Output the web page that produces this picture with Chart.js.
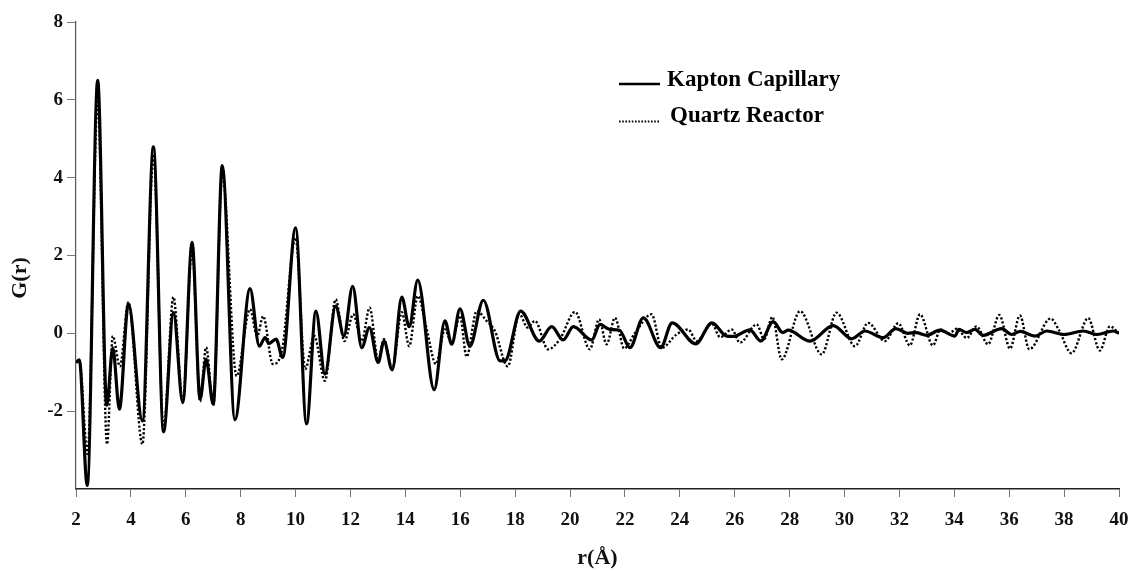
<!DOCTYPE html>
<html>
<head>
<meta charset="utf-8">
<script src="https://cdn.jsdelivr.net/npm/chart.js@4.4.1/dist/chart.umd.min.js"></script>
<style>
  html, body { margin: 0; padding: 0; background: #fff; }
  #wrap { position: relative; width: 1132px; height: 572px; }
</style>
</head>
<body>
<div id="wrap"><canvas id="pdf"></canvas></div>
<script>
// G(r), extrema and a few shoulder points
const kaptonR = [2.0, 2.12, 2.41, 2.79, 3.12, 3.34, 3.58, 3.91, 4.42, 4.82, 5.19, 5.55, 5.89, 6.23, 6.52, 6.74, 7.0, 7.33, 7.79, 8.34,
  8.68, 8.89, 9.03, 9.29, 9.53, 10.0, 10.4, 10.74, 11.07, 11.46, 11.76, 12.08, 12.41, 12.69, 13.01, 13.22, 13.52, 13.87, 14.14, 14.45,
  15.05, 15.44, 15.69, 15.99, 16.35, 16.84, 17.45, 17.64, 18.2, 18.88, 19.33, 19.75, 20.12, 20.79, 21.09, 21.45, 21.8, 22.18, 22.67, 23.3,
  23.72, 24.58, 25.17, 25.7, 25.95, 26.55, 26.95, 27.4, 27.75, 27.95, 28.74, 29.59, 30.26, 30.74, 31.41, 31.87, 32.3, 32.6, 33.0, 33.47,
  34.02, 34.17, 34.45, 34.75, 35.05, 35.72, 36.09, 36.4, 36.94, 37.37, 38.0, 38.7, 39.2, 39.79, 40.0];
const kaptonG = [-0.75, -0.68, -3.91, 6.5, -1.85, -0.37, -1.95, 0.76, -2.25, 4.79, -2.53, 0.53, -1.78, 2.34, -1.69, -0.67, -1.82, 4.31, -2.22, 1.15,
  -0.33, -0.11, -0.26, -0.15, -0.62, 2.71, -2.33, 0.57, -1.05, 0.7, -0.07, 1.21, -0.37, 0.15, -0.75, -0.2, -0.94, 0.93, 0.17, 1.37,
  -1.45, 0.32, -0.28, 0.63, -0.33, 0.85, -0.71, -0.7, 0.57, -0.2, 0.17, -0.17, 0.17, -0.17, 0.23, 0.1, 0.08, -0.37, 0.4, -0.37,
  0.27, -0.27, 0.27, -0.07, -0.08, 0.09, -0.2, 0.3, 0.02, 0.08, -0.2, 0.2, -0.14, 0.06, -0.11, 0.12, 0.0, 0.02, -0.05, 0.08,
  -0.07, 0.1, 0.02, 0.1, -0.05, 0.12, -0.03, 0.05, -0.07, 0.06, -0.03, 0.06, -0.03, 0.06, 0.0];

const quartzR = [2.0, 2.12, 2.42, 2.79, 3.13, 3.34, 3.6, 3.91, 4.42, 4.82, 5.19, 5.55, 5.89, 6.23, 6.52, 6.74, 7.0, 7.33, 7.85, 8.34,
  8.6, 8.82, 9.17, 9.5, 10.0, 10.35, 10.68, 11.07, 11.46, 11.78, 12.1, 12.41, 12.7, 13.01, 13.22, 13.52, 13.87, 14.14, 14.45, 14.78,
  15.11, 15.44, 15.69, 15.99, 16.23, 16.6, 16.96, 17.26, 17.73, 18.15, 18.45, 18.72, 19.2, 19.63, 20.18, 20.72, 21.06, 21.33, 21.64, 21.97,
  22.36, 22.97, 23.34, 23.88, 24.3, 24.62, 25.16, 25.47, 25.89, 26.19, 26.8, 27.07, 27.37, 27.71, 28.38, 29.17, 29.71, 30.38, 30.86, 31.47,
  31.96, 32.38, 32.75, 33.22, 33.5, 33.8, 34.1, 34.45, 34.81, 35.23, 35.64, 36.03, 36.39, 36.73, 37.51, 37.8, 38.27, 38.88, 39.3, 39.67, 40.0];
const quartzG = [-0.75, -0.7, -3.1, 6.0, -2.85, -0.07, -0.85, 0.8, -2.85, 4.6, -2.45, 0.93, -1.75, 2.2, -1.75, -0.36, -1.85, 4.1, -1.1, 0.62,
  -0.07, 0.44, -0.79, -0.45, 2.45, -0.92, -0.07, -1.22, 0.87, -0.2, 0.49, -0.2, 0.66, -0.7, -0.15, -0.9, 0.54, -0.33, 0.96, 0.1,
  -0.79, 0.1, -0.25, 0.45, -0.6, 0.57, 0.32, 0.06, -0.85, 0.5, 0.15, 0.32, -0.41, -0.15, 0.55, -0.41, 0.36, -0.28, 0.4, -0.39,
  0.0, 0.49, -0.37, -0.03, 0.1, -0.2, 0.25, -0.1, 0.1, -0.24, 0.23, -0.15, 0.42, -0.67, 0.57, -0.54, 0.53, -0.33, 0.27, -0.2,
  0.26, -0.31, 0.49, -0.31, 0.1, 0.0, 0.12, -0.12, 0.18, -0.28, 0.47, -0.39, 0.46, -0.41, 0.38, 0.1, -0.51, 0.39, -0.44, 0.18, 0.0];

const seriesNames = ['Kapton Capillary', 'Quartz Reactor'];
const xTicks = [2, 4, 6, 8, 10, 12, 14, 16, 18, 20, 22, 24, 26, 28, 30, 32, 34, 36, 38, 40];
const yTicks = [-2, 0, 2, 4, 6, 8];
const yTitle = 'G(r)';
const xTitle = 'r(Å)';

const serif = '"Liberation Serif", "Times New Roman", serif';

function toPoints(xs, ys) {
  return xs.map((x, i) => ({ x: x, y: ys[i] }));
}

// legend and y title drawn by hand, like the original figure
const extras = {
  id: 'extras',
  afterDraw(chart) {
    const ctx = chart.ctx;
    ctx.save();
    ctx.strokeStyle = '#000';
    ctx.lineCap = 'butt';

    ctx.lineWidth = 2.5;
    ctx.beginPath();
    ctx.moveTo(619, 84);
    ctx.lineTo(660, 84);
    ctx.stroke();

    ctx.lineWidth = 2;
    ctx.setLineDash([1.6, 1.6]);
    ctx.beginPath();
    ctx.moveTo(619, 121.5);
    ctx.lineTo(660, 121.5);
    ctx.stroke();
    ctx.setLineDash([]);

    ctx.fillStyle = '#000';
    ctx.font = 'bold 23px ' + serif;
    ctx.textBaseline = 'alphabetic';
    ctx.fillText(seriesNames[0], 667, 86);
    ctx.fillText(seriesNames[1], 670, 122);

    // y title sits a bit below the middle of the axis
    ctx.fillStyle = '#111';
    ctx.font = 'bold 22px ' + serif;
    ctx.textAlign = 'center';
    ctx.textBaseline = 'middle';
    ctx.translate(20, 278);
    ctx.rotate(-Math.PI / 2);
    ctx.fillText(yTitle, 0, 0);
    ctx.restore();
  }
};

new Chart(document.getElementById('pdf'), {
  type: 'line',
  data: {
    datasets: [
      {
        label: seriesNames[0],
        data: toPoints(kaptonR, kaptonG),
        borderColor: '#000',
        borderWidth: 3.2,
        pointRadius: 0,
        cubicInterpolationMode: 'monotone',
        fill: false
      },
      {
        label: seriesNames[1],
        data: toPoints(quartzR, quartzG),
        borderColor: '#000',
        borderWidth: 2.4,
        borderDash: [2.2, 2],
        pointRadius: 0,
        cubicInterpolationMode: 'monotone',
        fill: false
      }
    ]
  },
  options: {
    responsive: true,
    maintainAspectRatio: false,
    animation: false,
    layout: { padding: { left: 0, right: 13, top: 22, bottom: 0 } },
    plugins: {
      legend: { display: false },
      tooltip: { enabled: false }
    },
    scales: {
      x: {
        type: 'linear',
        min: 2,
        max: 40,
        afterBuildTicks: (scale) => { scale.ticks = xTicks.map(v => ({ value: v })); },
        afterFit: (scale) => {
          scale.height = 83;
          scale.paddingLeft = 0;
          scale.paddingRight = 0;
        },
        grid: { display: true, drawOnChartArea: false, drawTicks: true, tickLength: 8, color: '#777', lineWidth: 1 },
        border: { display: true, color: '#222', width: 1.5 },
        ticks: { color: '#111', padding: 12, maxRotation: 0, font: { family: serif, size: 19, weight: 'bold' } },
        title: { display: true, text: xTitle, color: '#111', padding: { top: 0, bottom: 0 }, font: { family: serif, size: 22, weight: 'bold' } }
      },
      y: {
        type: 'linear',
        min: -4,
        max: 8,
        afterBuildTicks: (scale) => { scale.ticks = yTicks.map(v => ({ value: v })); },
        afterFit: (scale) => {
          scale.width = 76;
          scale.paddingTop = 0;
          scale.paddingBottom = 0;
        },
        grid: { display: true, drawOnChartArea: false, drawTicks: true, tickLength: 9, color: '#777', lineWidth: 1 },
        border: { display: true, color: '#555', width: 1.2 },
        ticks: { color: '#111', padding: 4, font: { family: serif, size: 19, weight: 'bold' } },
        title: { display: false }
      }
    }
  },
  plugins: [extras]
});
</script>
</body>
</html>
